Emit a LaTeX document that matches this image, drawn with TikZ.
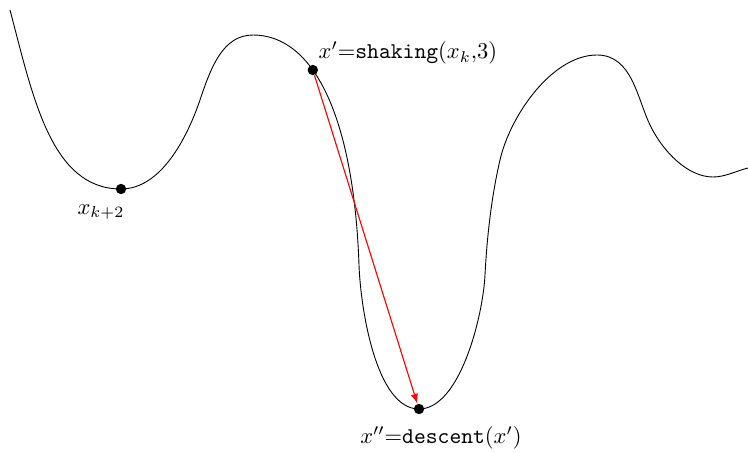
\documentclass[tikz,border=0pt]{standalone}
\usepackage{amsmath}
\usetikzlibrary{arrows,positioning}

\tikzset{
  pt/.style={circle,fill=black,inner sep=0pt,minimum size=4.6pt},
  lbl/.style={inner sep=1pt}
}

\begin{document}
\begin{tikzpicture}[x=0.444pt,y=0.444pt]
\useasboundingbox (0,0) rectangle (748,452);

% landscape: extrema and inflection points
\draw[line width=0.4pt] (10,442)
  .. controls (33,355) and (51,263) .. (121,263) node[pt] (xk2) {}
  .. controls (161,263) and (187,314) .. (200,352)
  .. controls (211,385) and (223,417) .. (253,417)
  .. controls (313,417) and (353.7,337) .. (359,187) node[pt,pos=0.385] (shake) {}
  .. controls (360.5,144) and (376,43) .. (419,43) node[pt] (desc) {}
  .. controls (460,43) and (483,136) .. (485,177)
  .. controls (487,217) and (492,258) .. (500,292)
  .. controls (510,336) and (552,397) .. (597,397)
  .. controls (632,397) and (637,354) .. (650,327)
  .. controls (663,300) and (688,275) .. (713,275)
  .. controls (725,275) and (736,281) .. (748,284);

\node[lbl] (lk2) at (101,240) {$x_{k+2}$};
\node[lbl,anchor=west] (lshake) at (316,399) {$x'{=}\texttt{shaking}(x_k{,}3)$};
\node[lbl] (ldesc) at (441,14) {$x''{=}\texttt{descent}(x')$};

% move
\draw[-latex,red,line width=0.5pt] (shake) -- (desc);
\end{tikzpicture}
\end{document}
